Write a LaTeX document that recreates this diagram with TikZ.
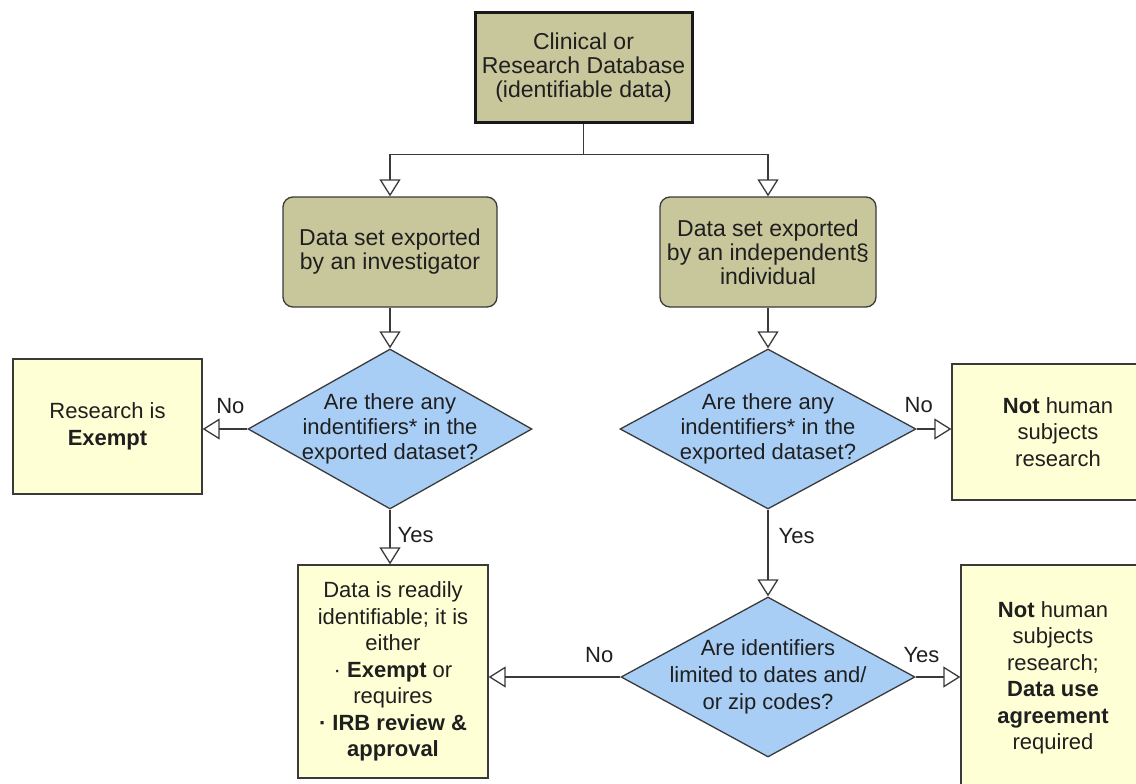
\documentclass[tikz,border=0pt]{standalone}
\usepackage{fontspec}
\setmainfont{Liberation Sans}
\usetikzlibrary{shapes.geometric, arrows.meta}
\definecolor{olivebox}{HTML}{C8C69B}
\definecolor{creambox}{HTML}{FFFFD6}
\definecolor{skyblue}{HTML}{A9CEF6}
\definecolor{linegray}{HTML}{3A3A3A}

\begin{document}
\begin{tikzpicture}[x=1pt, y=-1pt,
    every node/.style={text=black!88},
    source/.style={draw=black!90, line width=3pt, fill=olivebox, align=center,
      font=\fontsize{23}{24}\selectfont, minimum width=217pt, minimum height=109pt},
    export/.style={draw=linegray, line width=1.3pt, fill=olivebox, rounded corners=10pt,
      align=center, font=\fontsize{23}{24}\selectfont, minimum height=110pt},
    decision/.style={diamond, draw=linegray, line width=1.3pt, fill=skyblue, inner sep=0pt},
    qtext/.style={align=center, font=\fontsize{22}{25}\selectfont, inner sep=0pt},
    outcome/.style={draw=linegray, line width=1.3pt, fill=creambox, align=center,
      font=\fontsize{22}{26.5}\selectfont},
    flow/.style={draw=linegray, line width=1.3pt, -{Triangle[open, length=17pt, width=21pt]}},
    answer/.style={font=\fontsize{22}{24}\selectfont, inner sep=0pt}]
  \useasboundingbox (0,0) rectangle (1136,784);

  % database at the top
  \node[source] (db) at (583.5,67.5) {Clinical or\\Research Database\\(identifiable data)};

  % two ways of exporting
  \node[export, minimum width=214pt] (invest) at (390,252) {Data set exported\\by an investigator};
  \node[export, minimum width=216pt] (indep) at (768,252) {Data set exported\\by an independent§\\individual};

  % questions
  \node[decision, minimum width=284pt, minimum height=160pt] (q1) at (390,429) {};
  \node[qtext] at (q1) {Are there any\\indentifiers* in the\\exported dataset?};
  \node[decision, minimum width=296pt, minimum height=160pt] (q2) at (768,429) {};
  \node[qtext] at (q2) {Are there any\\indentifiers* in the\\exported dataset?};
  \node[decision, minimum width=294pt, minimum height=160pt] (q3) at (768,677) {};
  \node[qtext, font=\fontsize{22}{27}\selectfont] at (q3) {Are identifiers\\limited to dates and/\\or zip codes?};

  % outcomes
  \node[outcome, minimum width=189pt, minimum height=135pt] (exempt) at (107.5,426.5)
    {Research is\\\textbf{Exempt}};
  \node[outcome, minimum width=212pt, minimum height=136pt] (nohuman) at (1058,432)
    {\textbf{Not} human\\subjects\\research};
  \node[outcome, minimum width=190pt, minimum height=213pt] (readily) at (393,671.5)
    {Data is readily\\identifiable; it is\\either\\· \textbf{Exempt} or\\requires\\\textbf{· IRB review \&}\\\textbf{approval}};
  \node[outcome, minimum width=184pt, minimum height=226pt] (dua) at (1053,678)
    {\textbf{Not} human\\subjects\\research;\\\textbf{Data use}\\\textbf{agreement}\\required};

  % connectors
  \draw[flow] (db.south) -- ++(0,31) -| (invest.north);
  \draw[flow] (db.south) -- ++(0,31) -| (indep.north);
  \draw[flow] (invest.south) -- (q1.north);
  \draw[flow] (indep.south) -- (q2.north);
  \draw[flow] (q1.west) -- node[answer, pos=0.38, above=15pt] {No} (q1.west -| exempt.east);
  \draw[flow] (q2.east) -- node[answer, pos=0.06, above=16pt] {No} (q2.east -| nohuman.west);
  \draw[flow] (q1.south) -- node[answer, pos=0.47, right=7pt] {Yes} (q1.south |- readily.north);
  \draw[flow] (q2.south) -- node[answer, pos=0.3, right=10pt] {Yes} (q3.north);
  \draw[flow] (q3.west) -- node[answer, pos=0.16, above=14pt] {No} (q3.west -| readily.east);
  \draw[flow] (q3.east) -- node[answer, pos=0.13, above=14pt] {Yes} (q3.east -| dua.west);
\end{tikzpicture}
\end{document}
